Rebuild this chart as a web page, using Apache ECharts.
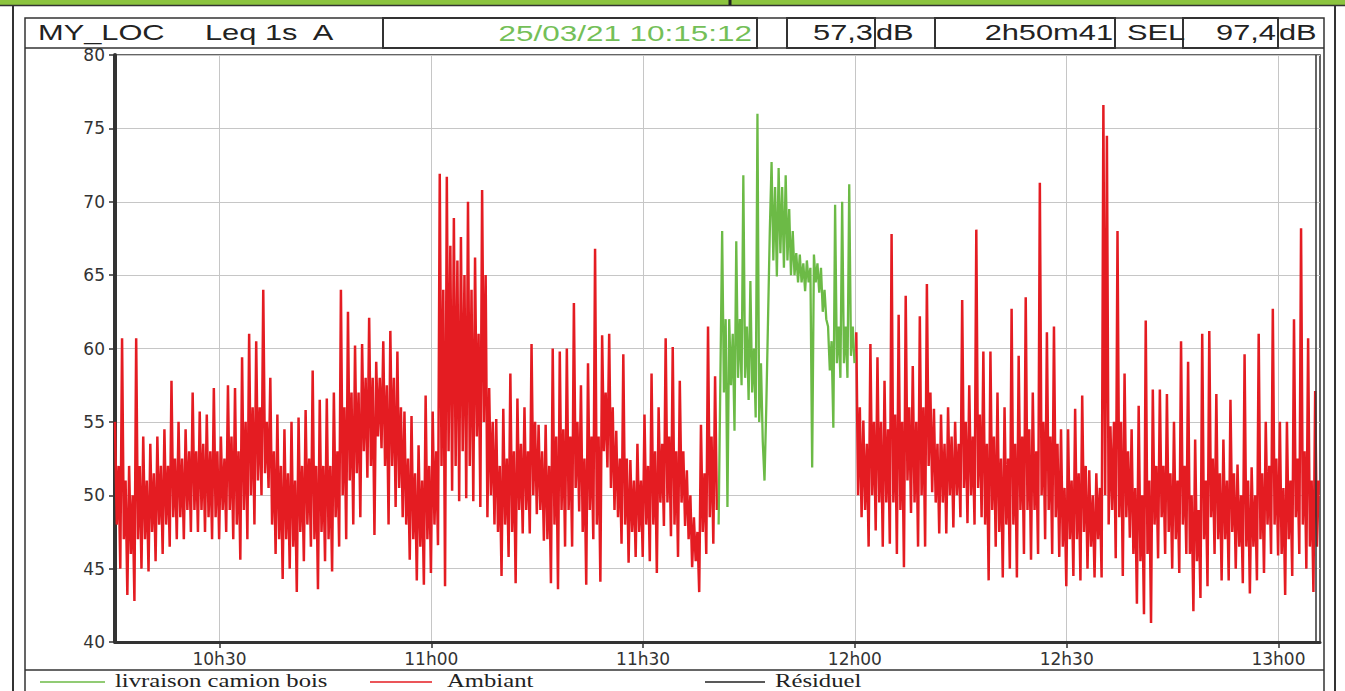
<!DOCTYPE html>
<html><head><meta charset="utf-8">
<script src="https://cdn.jsdelivr.net/npm/echarts@6/dist/echarts.min.js"></script>
<style>html,body{margin:0;padding:0;background:#fff}#c{width:1345px;height:691px}</style>
</head><body><div id="c"></div>
<script>
// ---- data (Leq 1s A in dB, one value every 15 s) ----
const startSec = 36912;          // 10:15:12
const durationSec = 10241;       // 2h50m41
const stepSec = 15;
const yMin = 40, yMax = 80, yStep = 5;
const xTickLabels = ['10h30', '11h00', '11h30', '12h00', '12h30', '13h00'];

// Ambiant, from 10:15:12 (sample 0) to ~11:40:27
const ambiantA = [
 55,48,52,45, 60.7,47,51,43.2, 52,46,50,42.8, 60.7,47,52,45, 54,47,51,44.8,
 53.5,47.5,51.5,45.5, 54,48,52,46, 54.5,48,52,46.5, 57.8,48.5,52.5,47, 55,48.5,52.5,47,
 54.5,49,53,47.5, 57,49,53,47.5, 55.7,49,53.5,47.5, 55.5,48.5,53,47, 57.3,48.5,53,47,
 54,49,52.5,47.5, 57.5,49,54,47, 57.3,48,53,45.6, 59.4,49,55,47, 61,50,56,48,
 60.5,51,56,50, 64,51.5,55,50.5, 58,48,53,46, 55.5,47,52,44.3, 54.5,47,51.5,45,
 55,46.5,51,43.4, 55.3,47.5,52,45.5, 55.8,48,52.5,46.5, 58.5,47,52,43.6, 56.5,47.5,52,45.5,
 56.6,47,52,44.8, 57,48.5,53,46.5, 64,50,56,47, 62.5,51,57,48, 60.2,51.5,57,48.5,
 60.3,53,58,51.2, 62.1,52,58,47.3, 59.1,54,58,53.2, 60.5,52,57.5,48, 61.2,52,58,49.2,
 59.8,50.5,56,48.5, 55.7,48,52.5,45.6, 55.4,47,51.5,44.2, 53.4,46.5,51,43.9, 56.8,47,52,44.7,
 55.7,48,53,46.6, 71.9,52,64,43.8, 71.7,53,67,50.3, 68.9,52,66,49.6, 67.6,53,65,49.8,
 70,52,64,49.6, 66.2,54,61,49.2, 70.8,55,65,48.5, 57.3,50,55,48, 55.2,47.5,52,44.5,
 55.9,48,52.5,45.8, 58.3,47.5,53,44.0, 56.6,49,53.5,47.4, 56,49,53,47.4, 60.3,50,55,48.7,
 54.8,49,53,46.9, 54.8,47,52,44.0, 60.0,48,54,43.6, 59.8,49,54.5,46.5, 60.0,49,54,46.5,
 63.1,50.5,55,48.9, 57.5,47.5,52.5,43.9, 59,49,54,47, 66.8,48,54,44.1, 60.9,53,57,51.9,
 61.0,50.5,56,49.0, 54.4,48.5,52.5,46.7, 59.6,48,52.5,45.4, 52.4,47.5,51,45.8, 53.5,47.5,51,45.8,
 55.5,48,52,45.5, 58.3,48,53,44.7, 56.0,49.5,53.5,47.9, 60.7,49.5,54,47.2, 60.1,48,53,45.8,
 57.8,49.5,53,47.9, 51.7,47,50,45.1, 48.5,45.5,47.5,43.4, 54.8,47.5,51.5,46.0, 61.5,48.5,54,46.7,
 58.1,49
];
// livraison camion bois, from sample 342 (~11:40:42)
const livraisonStart = 342;
const livraison = [
 48,58,
 68.0,57,62,49.2, 62,57.5,61,54.4, 67.3,58,62,57.5, 71.8,58,61.5,56.5, 64.6,57,60,55.3,
 76.0,55,59,53.7, 51.0,56,62,68, 72.7,66,71,64.9, 72.3,66.5,71,65.5, 71.8,66,69.5,65,
 68,65,66.5,64.5, 66.4,64.5,65.8,63.9, 66.0,64.5,65.5,51.9, 66.4,64.5,65.8,63.8, 65.5,62.5,64,62,
 61.5,58.5,60.5,54.6, 69.8,59,61.5,58, 70.0,59,61.5,58.0, 71.2,59.5,61.5,59
];
// Ambiant again, from sample 420 (~12h00)
const ambiantBStart = 420;
const ambiantB = [
 61.1,50,56,48.5, 55.1,49,53.5,46.5, 60.3,50,55,47.6, 59.4,49.5,55,46.5, 57.8,49.5,54.5,46.7,
 67.8,49.5,55.5,46.0, 62.3,49,55,45.1, 63.6,51,56,48.8, 58.8,49.5,55,46.5, 62.2,50,56,46.5,
 64.4,52,57,50.2, 55.9,49.5,53.5,47.4, 55.5,49.5,53.5,47.4, 56,50,54,47.8, 55,50,53.5,48.5,
 63.3,50.5,55,48.1, 57.5,50,54,48, 68.1,50.5,55.5,48.5, 59.8,48,53.5,44.2, 59.8,49,54,46.5,
 57,47.5,52.5,44.4, 56,48,52.5,45, 62.7,48,53.5,44.4, 59.5,49,54,46, 63.5,49,54.5,45.6,
 57.0,49,53,46, 71.3,50,55,47, 61.1,49,54,46, 61.5,48.5,53.5,45.8, 54.5,46.5,50.5,43.8,
 54.5,47,51,44.5, 55.9,47,51.5,44.2, 56.8,47.5,52,45, 51.7,46.5,50,44.4, 51.5,47,50.5,44.4,
 76.6,50,74.5,48, 54.7,49,55,45.7, 68.0,48.5,55,44.5, 58.3,48.5,53,47.1, 54.5,46,50.5,42.6,
 56.1,45.5,50,41.9, 61.9,46,51,41.3, 57.2,48,52,45.7, 57.2,48.5,52,46, 56.9,47.5,51.5,45,
 55,47,51,44.7, 60.5,48,52,46, 59.1,46,50,42.1, 53.8,45.5,49,43.0, 61.0,47,51,43.8,
 61.2,48.5,52.5,46, 56.9,47,51.5,44.2, 53.8,47,51,44.2, 56.5,47.5,51.5,45, 52.1,46.5,50,44,
 59.6,46.5,51,43.3, 51.9,46.5,50,44.2, 61.0,47,51.5,44.7, 55,48,52,46, 62.7,48,52.5,45.9,
 55,46,50.5,43.2, 55,47,51,44.5, 62.0,48.5,52.5,46, 68.2,48,53,45, 60.7,46.5,51,43.4,
 57.1,46.5,51
];

// ---- helpers ----
const xTickVals = xTickLabels.map(s => { const [h, m] = s.split('h'); return (+h) * 3600 + (+m) * 60; });
const labelOf = v => { const h = Math.floor(v / 3600), m = Math.round((v % 3600) / 60); return h + 'h' + String(m).padStart(2, '0'); };
const toXY = (arr, s) => arr.map((v, i) => [startSec + (s + i) * stepSec, v]);
const ambiantData = toXY(ambiantA, 0).concat([[startSec + (livraisonStart + 20) * stepSec, '-']], toXY(ambiantB, ambiantBStart));
const livraisonData = toXY(livraison, livraisonStart);

const RED = '#e41c22', GREEN = '#6cba46', DARK = '#333';
const hdrFont = '22px "Liberation Sans", Arial, sans-serif';
const serif = '19px "Liberation Serif", "Times New Roman", serif';
function txt(text, x, y, align, fill, font, sx) {
  return { type: 'text', x: x, y: y, scaleX: sx || 1.4, z: 10,
    style: { text: text, x: 0, y: 0, fill: fill || '#222', font: font || hdrFont, textAlign: align || 'left', textVerticalAlign: 'middle' } };
}
function rect(x, y, w, h, lw) {
  return { type: 'rect', z: 5, shape: { x: x, y: y, width: w, height: h }, style: { fill: null, stroke: DARK, lineWidth: lw || 1.5 } };
}
function line(x1, y1, x2, y2, color, lw) {
  return { type: 'line', z: 5, shape: { x1: x1, y1: y1, x2: x2, y2: y2 }, style: { stroke: color || DARK, lineWidth: lw || 1.5 } };
}

const chart = echarts.init(document.getElementById('c'), null, { renderer: 'svg' });
chart.setOption({
  animation: false,
  backgroundColor: '#fff',
  grid: { left: 115, right: 25, top: 55, bottom: 49, show: true, borderColor: DARK, borderWidth: 1.5, backgroundColor: 'transparent' },
  xAxis: {
    type: 'value', min: startSec, max: startSec + durationSec,
    axisLine: { show: true, onZero: false, lineStyle: { color: DARK, width: 3 } },
    axisTick: { show: true, customValues: xTickVals, length: 6, lineStyle: { color: DARK, width: 1.5 } },
    axisLabel: { customValues: xTickVals, formatter: labelOf, fontFamily: 'DejaVu Sans', fontSize: 17, color: '#333', margin: 8 },
    splitLine: { show: false }
  },
  yAxis: {
    type: 'value', min: yMin, max: yMax, interval: yStep,
    axisLine: { show: true, lineStyle: { color: DARK, width: 4 } },
    axisTick: { show: true, length: 6, lineStyle: { color: DARK, width: 1.5 } },
    axisLabel: { fontFamily: 'DejaVu Sans', fontSize: 17, color: '#333', margin: 10 },
    splitLine: { show: true, lineStyle: { color: '#c6c6c6', width: 1 } }
  },
  series: [
    { name: 'grid', type: 'line', data: [[startSec, yMin]], symbol: 'none', lineStyle: { width: 0 }, z: 0, silent: true,
      markLine: { z: 0, silent: true, symbol: 'none', label: { show: false }, lineStyle: { color: '#c6c6c6', width: 1, type: 'solid' },
        data: xTickVals.map(v => ({ xAxis: v })) } },
    { name: 'Ambiant', type: 'line', data: ambiantData, symbol: 'none', connectNulls: false, z: 3,
      lineStyle: { color: RED, width: 2.5 } },
    { name: 'livraison camion bois', type: 'line', data: livraisonData, symbol: 'none', z: 4,
      lineStyle: { color: GREEN, width: 2.3 } },
    { name: 'Résiduel', type: 'line', data: [], symbol: 'none', lineStyle: { color: '#000', width: 1 } }
  ],
  graphic: [
    { type: 'rect', z: 4, shape: { x: 0, y: 0, width: 1345, height: 5 }, style: { fill: '#8cc43f' } },
    line(0, 5.5, 1345, 5.5, DARK, 1.5),
    line(730, 0, 730, 5, '#222', 3),
    line(13, 5, 13, 691, DARK, 2),
    line(1335, 5, 1335, 691, DARK, 2),
    rect(25, 18, 1299, 690, 1.5),
    line(25, 48, 1324, 48, DARK, 1.5),
    rect(383, 18, 374, 30, 2),
    rect(787, 18, 88, 30, 2),
    rect(935, 18, 180, 30, 2),
    rect(1183, 18, 95, 30, 2),
    line(1316, 55, 1316, 642, DARK, 1.5),
    line(25, 670, 1324, 670, DARK, 1.5),
    txt('MY_LOC', 38, 33),
    txt('Leq 1s  A', 205, 33),
    txt('25/03/21 10:15:12', 752, 33, 'right', '#74bf58', hdrFont, 1.43),
    txt('57,3', 873, 33, 'right'),
    txt('dB', 876, 33),
    txt('2h50m41', 1113, 33, 'right'),
    txt('SEL', 1127, 33),
    txt('97,4', 1276, 33, 'right'),
    txt('dB', 1279, 33),
    line(40, 682, 105, 682, GREEN, 1.5),
    txt('livraison camion bois', 115, 681, 'left', '#222', serif, 1.3),
    line(370, 682, 432, 682, RED, 1.5),
    txt('Ambiant', 447, 681, 'left', '#222', serif, 1.3),
    line(705, 682, 765, 682, '#222', 1.5),
    txt('Résiduel', 775, 681, 'left', '#222', serif, 1.3)
  ]
});
</script></body></html>
